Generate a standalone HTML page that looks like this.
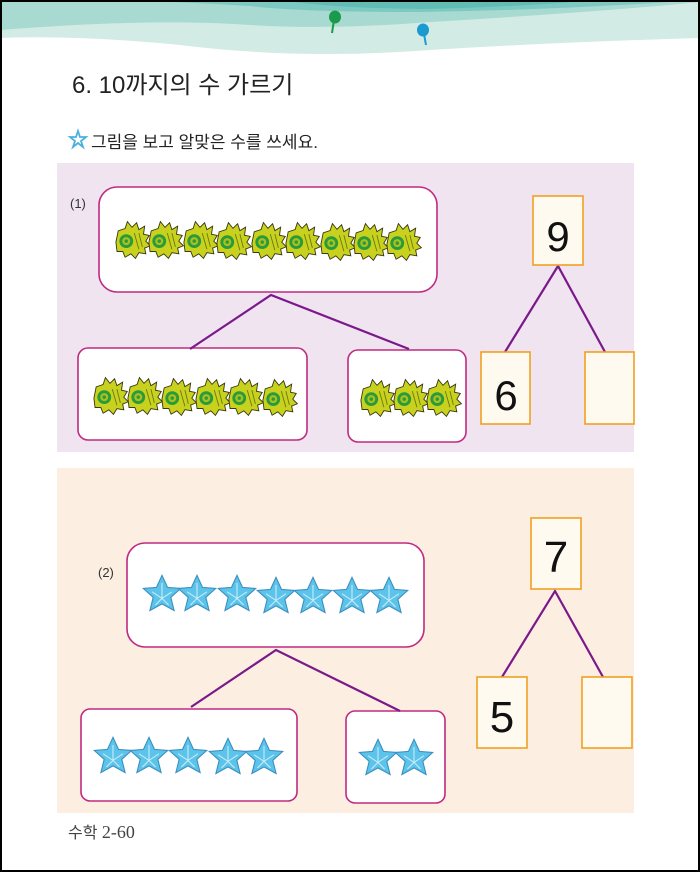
<!DOCTYPE html>
<html><head><meta charset="utf-8"><style>
html,body{margin:0;padding:0;background:#fff}
svg{display:block}
text{font-family:"Liberation Sans","Noto Sans CJK KR",sans-serif}
</style></head><body>
<svg width="700" height="872" viewBox="0 0 700 872" xmlns="http://www.w3.org/2000/svg">
<defs>
<g id="shell0">
<path d="M-14,2 L-12,-8 L-6,-10 L-4,-16 L0,-11 L4,-15 L6,-9 L11,-12 L10,-5 L15,-4 L12,1 L16,5 L11,7 L12,12 L6,11 L3,16 L-1,12 L-6,15 L-8,10 L-13,10 Z" fill="#c8d21e" stroke="#3a3a10" stroke-width="0.8"/>
<circle cx="-5" cy="1" r="6" fill="#2a9a3a"/>
<circle cx="-5" cy="1" r="3.5" fill="#a8c020"/>
<circle cx="-5" cy="1" r="1.5" fill="#2a9a3a"/>
<path d="M2,-6 L6,8 M6,-6 L9,6" stroke="#6a7a10" stroke-width="0.8" fill="none"/>
</g>
<g id="shell"><use href="#shell0" transform="scale(1.15)"/></g>
<g id="star0">
<path d="M0,-17 L5,-6 L17,-5 L8,3 L11,15 L0,9 L-11,15 L-8,3 L-17,-5 L-5,-6 Z" fill="#5cc3ea" stroke="#3a8fc0" stroke-width="1"/>
<path d="M0,-10 L0,4 M-9,-2 L0,4 L9,-2 M-6,10 L0,4 L6,10" stroke="#c8ecf8" stroke-width="1" fill="none"/>
</g>
<g id="star"><use href="#star0" transform="scale(1.1)"/></g>
</defs>
<rect x="0" y="0" width="700" height="872" fill="#fff"/>
<path d="M0,0 H700 V38 Q560,42 430,50 Q300,60 180,45 Q80,35 0,38 Z" fill="#d2ebe4"/>
<path d="M0,0 H700 V2 Q600,12 430,22 Q330,30 250,25 Q150,18 0,30 Z" fill="#a8dad1"/>
<path d="M90,0 H700 Q560,10 420,12 Q300,12 250,6 Q150,0 90,0 Z" fill="#7cc9c2"/>
<path d="M280,0 H600 Q500,8 420,9 Q330,8 280,0 Z" fill="#62bcb6"/>
<line x1="334" y1="20" x2="332" y2="33" stroke="#1a9a4a" stroke-width="2"/>
<ellipse cx="335" cy="17" rx="6" ry="6.5" fill="#1a9a4a"/>
<line x1="424" y1="34" x2="426" y2="45" stroke="#1a9ad0" stroke-width="2"/>
<ellipse cx="423" cy="30" rx="6" ry="6.5" fill="#1a9ad0"/>
<text x="72" y="93" font-size="24" fill="#222">6. 10까지의 수 가르기</text>
<path d="M78,131 L80,137 L86,137 L81,141 L83,147 L78,143 L73,147 L75,141 L70,137 L76,137 Z" fill="#fff" stroke="#4ab0e0" stroke-width="1.8"/>
<text x="91" y="148" font-size="17" fill="#222">그림을 보고 알맞은 수를 쓰세요.</text>
<rect x="57" y="163" width="577" height="289" fill="#f1e4f1"/>
<text x="70" y="208" font-size="13" fill="#333" font-family="Liberation Serif,serif">(1)</text>
<g stroke="#c02a80" stroke-width="1.6" fill="#fff">
<rect x="99" y="187" width="338" height="105" rx="18"/>
<rect x="78" y="348" width="229" height="92" rx="10"/>
<rect x="348" y="350" width="118" height="92" rx="10"/>
</g>
<g stroke="#7a1a8a" stroke-width="2.2" fill="none">
<polyline points="190,349 271,295 409,349"/>
<polyline points="505,352 558,266 605,352"/>
</g>
<g fill="#fffaf0" stroke="#f0a020" stroke-width="1.6">
<rect x="533" y="196" width="50" height="69"/>
<rect x="481" y="352" width="49" height="72"/>
<rect x="585" y="352" width="49" height="72"/>
</g>
<text x="558" y="251" font-size="42" text-anchor="middle" fill="#111">9</text>
<text x="506" y="410" font-size="42" text-anchor="middle" fill="#111">6</text>
<g>
<use href="#shell" x="132" y="240"/><use href="#shell" x="165" y="240"/><use href="#shell" x="200" y="240"/><use href="#shell" x="233" y="241"/><use href="#shell" x="268" y="241"/><use href="#shell" x="302" y="241"/><use href="#shell" x="337" y="242"/><use href="#shell" x="370" y="242"/><use href="#shell" x="403" y="242"/>
<use href="#shell" x="110" y="396"/><use href="#shell" x="144" y="396"/><use href="#shell" x="178" y="397"/><use href="#shell" x="212" y="397"/><use href="#shell" x="245" y="397"/><use href="#shell" x="279" y="398"/>
<use href="#shell" x="377" y="398"/><use href="#shell" x="410" y="398"/><use href="#shell" x="443" y="398"/>
</g>
<rect x="57" y="468" width="577" height="345" fill="#fdeee2"/>
<text x="98" y="577" font-size="13" fill="#333" font-family="Liberation Serif,serif">(2)</text>
<g stroke="#c02a80" stroke-width="1.6" fill="#fff">
<rect x="127" y="543" width="297" height="104" rx="18"/>
<rect x="81" y="709" width="216" height="92" rx="9"/>
<rect x="346" y="711" width="99" height="92" rx="9"/>
</g>
<g stroke="#7a1a8a" stroke-width="2.2" fill="none">
<polyline points="191,707 276,650 400,711"/>
<polyline points="502,677 555,591 603,677"/>
</g>
<g fill="#fffaf0" stroke="#f0a020" stroke-width="1.6">
<rect x="531" y="518" width="50" height="71"/>
<rect x="477" y="677" width="50" height="71"/>
<rect x="582" y="677" width="50" height="71"/>
</g>
<text x="556" y="572" font-size="44" text-anchor="middle" fill="#111">7</text>
<text x="502" y="732" font-size="44" text-anchor="middle" fill="#111">5</text>
<g>
<use href="#star" x="162" y="594"/><use href="#star" x="197" y="594"/><use href="#star" x="237" y="594"/><use href="#star" x="276" y="596"/><use href="#star" x="313" y="596"/><use href="#star" x="352" y="596"/><use href="#star" x="389" y="596"/>
<use href="#star" x="113" y="756"/><use href="#star" x="149" y="756"/><use href="#star" x="188" y="756"/><use href="#star" x="228" y="757"/><use href="#star" x="264" y="757"/>
<use href="#star" x="378" y="758"/><use href="#star" x="414" y="758"/>
</g>
<text x="68" y="838" font-size="16" fill="#444">수학 <tspan font-family="Liberation Serif,serif" font-size="18">2-60</tspan></text>
<rect x="1" y="1" width="698" height="870" fill="none" stroke="#000" stroke-width="2"/>
</svg>
</body></html>
